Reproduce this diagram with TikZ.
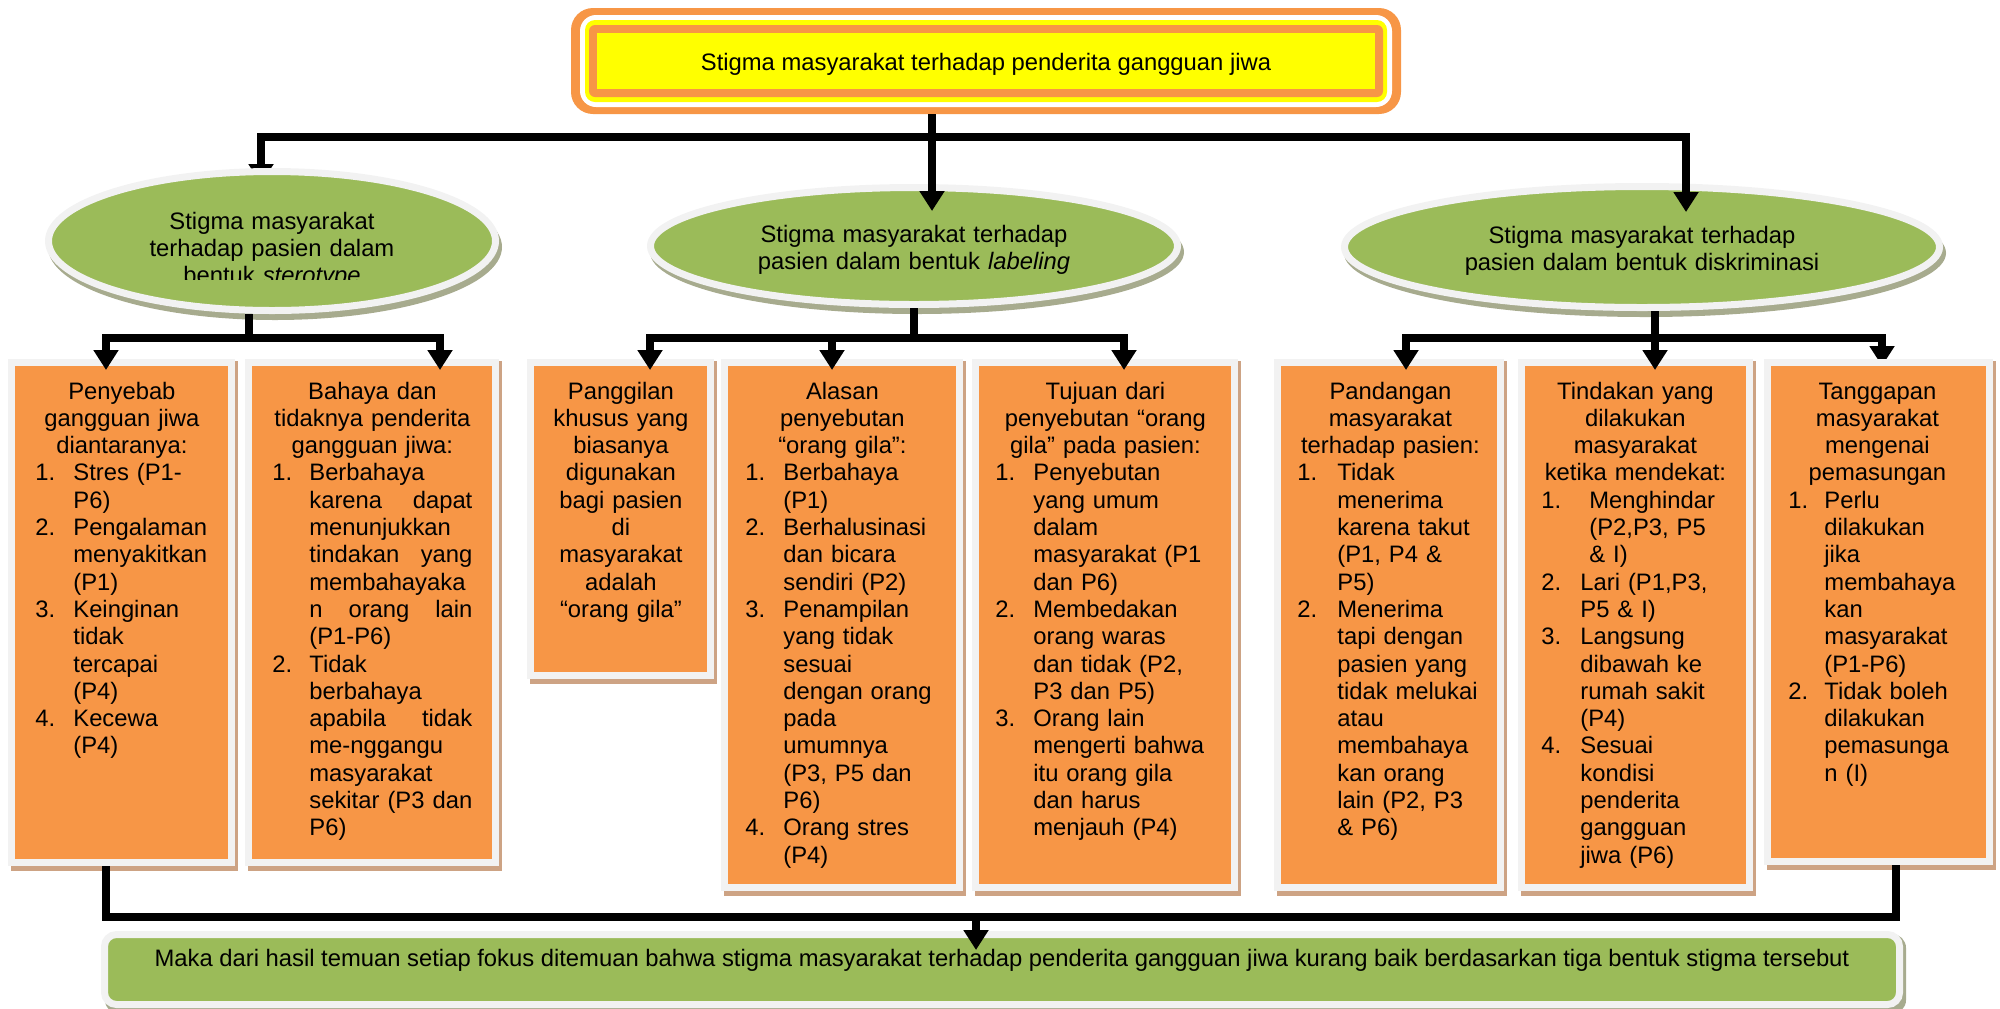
\documentclass[tikz,border=0pt]{standalone}
\usepackage{fontspec}
\setmainfont{Liberation Sans}
\usetikzlibrary{arrows.meta,shapes.geometric,fit}

\definecolor{orangeF}{HTML}{F79646}
\definecolor{greenF}{HTML}{9BBB59}
\definecolor{edgeG}{HTML}{F2F2F2}
\definecolor{shadowO}{HTML}{CDA384}
\definecolor{shadowG}{HTML}{A7AB8E}
\definecolor{yellowF}{HTML}{FFFF00}

\newcommand{\txtfont}{\fontsize{11.9pt}{13.65pt}\selectfont}
% numbered item with hanging indent: width of number column, number, lines
\newcommand{\itm}[3]{\par\hangindent=#1\hangafter=1\noindent\makebox[#1][l]{#2}#3\par}
% orange panel with light edge and drop shadow: name, x1, y1, x2, y2 of the orange area
\newcommand{\obox}[5]{%
  \fill[shadowO] (#2-4,#3-5) rectangle (#4+10,#5+12);
  \node[panel, fit={(#2-3.5,#3-3.5) (#4+3.5,#5+3.5)}] (#1) {};}

\tikzset{
  conn/.style={line width=3.6pt, draw=black},
  arr/.style={conn, -{Triangle[width=12pt,length=10pt]}},
  panel/.style={fill=orangeF, draw=edgeG, line width=3.5pt, inner sep=0pt},
  oval/.style={ellipse, fill=greenF, draw=edgeG, line width=3.5pt, inner sep=0pt},
  btext/.style={anchor=base west, inner sep=0pt, text width=#1, font=\txtfont},
  ctext/.style={anchor=base, inner sep=0pt, text width=#1, font=\txtfont, align=center},
}

\begin{document}
\hyphenpenalty=10000
\exhyphenpenalty=10000
\begin{tikzpicture}[x=0.5pt,y=-0.5pt]
\useasboundingbox (0,0) rectangle (2000,1008);

% ---- title frame ----
\node[fill=orangeF, rounded corners=11pt, inner sep=0pt, minimum width=415pt, minimum height=53pt] (top) at (986,61) {};
\fill[white, rounded corners=8pt] (580,15) rectangle (1392,107);
\fill[yellowF, rounded corners=5pt] (585,20) rectangle (1387,102);
\fill[orangeF, rounded corners=3pt] (589,25) rectangle (1383,97);
\fill[yellowF] (597,33) rectangle (1375,89);
\node[anchor=base, font=\txtfont, inner sep=0pt] (toptext) at (986,70) {Stigma masyarakat terhadap penderita gangguan jiwa};

% ---- junctions and arrow tips ----
\coordinate (jT) at (932,137);
\coordinate (tipL) at (261,184);
\coordinate (tipM) at (932,211);
\coordinate (tipR) at (1686,212);
\coordinate (jL) at (249,338);
\coordinate (jM) at (914,338);
\coordinate (jR) at (1655,338);
\coordinate (tipA) at (106,370);
\coordinate (tipB) at (440,370);
\coordinate (tipC) at (650,370);
\coordinate (tipD) at (832,370);
\coordinate (tipE) at (1124,370);
\coordinate (tipF) at (1406,370);
\coordinate (tipG) at (1655,370);
\coordinate (tipH) at (1882,366);
\coordinate (jB1) at (106,917);
\coordinate (jB2) at (1896,917);
\coordinate (tipBot) at (976,950);

% branch that runs under the left oval
\draw[arr] (jT) -| (tipL);

% ---- ovals ----
\fill[shadowG] (275,247) ellipse [x radius=113.5pt, y radius=36.5pt];
\node[oval, minimum width=223.5pt, minimum height=69.5pt] (Lell) at (272,241) {};
\fill[shadowG] (917,252) ellipse [x radius=133.5pt, y radius=31pt];
\node[oval, minimum width=263.5pt, minimum height=58.5pt] (Mell) at (914,246) {};
\fill[shadowG] (1645,253) ellipse [x radius=150.5pt, y radius=32pt];
\node[oval, minimum width=297.5pt, minimum height=60.5pt] (Rell) at (1642,247) {};

\begin{scope}
  \clip (40,150) rectangle (510,279);
  \node[ctext=210pt] (Ltext) at (272,229) {Stigma masyarakat\\terhadap pasien dalam\\bentuk \textit{sterotype}};
\end{scope}
\node[ctext=250pt] (Mtext) at (914,242) {Stigma masyarakat terhadap\\pasien dalam bentuk \textit{labeling}};
\node[ctext=250pt] (Rtext) at (1642,243) {Stigma masyarakat terhadap\\pasien dalam bentuk diskriminasi};

\draw[arr] (top.south -| jT) -- (tipM);
\draw[arr] (jT) -| (tipR);

% branch that runs under the last panel
\draw[arr] (jR) -| (tipH);

% ---- panels ----
\obox{A}{15}{366}{228}{859}
\obox{B}{252}{366}{492}{859}
\obox{C}{534}{366}{707}{672}
\obox{D}{728}{366}{956}{884}
\obox{E}{979}{366}{1231}{884}
\obox{F}{1281}{366}{1497}{884}
\obox{G}{1525}{366}{1746}{884}
\obox{H}{1771}{366}{1986}{858}

\node[btext=86.5pt] (Atext) at (35,399) {\centering Penyebab\\gangguan jiwa\\diantaranya:\par\raggedright
\itm{19pt}{1.}{Stres (P1-\newline P6)}
\itm{19pt}{2.}{Pengalaman\newline menyakitkan\newline (P1)}
\itm{19pt}{3.}{Keinginan\newline tidak\newline tercapai\newline (P4)}
\itm{19pt}{4.}{Kecewa\newline (P4)}};

\node[btext=100pt] (Btext) at (272,399) {\centering Bahaya dan\\tidaknya penderita\\gangguan jiwa:\par\raggedright
\itm{18.5pt}{1.}{Berbahaya\newline karena\hfill dapat\newline menunjukkan\newline tindakan\hfill yang\newline membahayaka\newline n\hfill orang\hfill lain\newline (P1-P6)}
\itm{18.5pt}{2.}{Tidak\newline berbahaya\newline apabila\hfill tidak\newline me-nggangu\newline masyarakat\newline sekitar\hfill (P3\hfill dan\newline P6)}};

\node[btext=79.5pt] (Ctext) at (541,399) {\centering Panggilan\\khusus yang\\biasanya\\digunakan\\bagi pasien\\di\\masyarakat\\adalah\\“orang gila”\par};

\node[btext=97pt] (Dtext) at (745,399) {\centering Alasan\\penyebutan\\“orang gila”:\par\raggedright
\itm{19pt}{1.}{Berbahaya\newline (P1)}
\itm{19pt}{2.}{Berhalusinasi\newline dan bicara\newline sendiri (P2)}
\itm{19pt}{3.}{Penampilan\newline yang tidak\newline sesuai\newline dengan orang\newline pada\newline umumnya\newline (P3, P5 dan\newline P6)}
\itm{19pt}{4.}{Orang stres\newline (P4)}};

\node[btext=110pt] (Etext) at (995,399) {\centering Tujuan dari\\penyebutan “orang\\gila” pada pasien:\par\raggedright
\itm{19pt}{1.}{Penyebutan\newline yang umum\newline dalam\newline masyarakat (P1\newline dan P6)}
\itm{19pt}{2.}{Membedakan\newline orang waras\newline dan tidak (P2,\newline P3 dan P5)}
\itm{19pt}{3.}{Orang lain\newline mengerti bahwa\newline itu orang gila\newline dan harus\newline menjauh (P4)}};

\node[btext=93pt] (Ftext) at (1297,399) {\centering Pandangan\\masyarakat\\terhadap pasien:\par\raggedright
\itm{20pt}{1.}{Tidak\newline menerima\newline karena takut\newline (P1, P4 \&\newline P5)}
\itm{20pt}{2.}{Menerima\newline tapi dengan\newline pasien yang\newline tidak melukai\newline atau\newline membahaya\newline kan orang\newline lain (P2, P3\newline \& P6)}};

\node[btext=94pt] (Gtext) at (1541,399) {\centering Tindakan yang\\dilakukan\\masyarakat\\ketika mendekat:\par\raggedright
\itm{24pt}{1.}{Menghindar\newline (P2,P3, P5\newline \& I)}
\itm{19.5pt}{2.}{Lari (P1,P3,\newline P5 \& I)}
\itm{19.5pt}{3.}{Langsung\newline dibawah ke\newline rumah sakit\newline (P4)}
\itm{19.5pt}{4.}{Sesuai\newline kondisi\newline penderita\newline gangguan\newline jiwa (P6)}};

\node[btext=89pt] (Htext) at (1788,399) {\centering Tanggapan\\masyarakat\\mengenai\\pemasungan\par\raggedright
\itm{18pt}{1.}{Perlu\newline dilakukan\newline jika\newline membahaya\newline kan\newline masyarakat\newline (P1-P6)}
\itm{18pt}{2.}{Tidak boleh\newline dilakukan\newline pemasunga\newline n (I)}};

% ---- connectors from ovals to panels ----
\draw[conn] (Lell.south -| jL) -- (jL);
\draw[arr] (jL) -| (tipA);
\draw[arr] (jL) -| (tipB);
\draw[conn] (Mell.south -| jM) -- (jM);
\draw[arr] (jM) -| (tipC);
\draw[arr] (jM) -| (tipD);
\draw[arr] (jM) -| (tipE);
\draw[arr] (Rell.south -| jR) -- (tipG);
\draw[arr] (jR) -| (tipF);

% ---- conclusion ----
\fill[shadowG, rounded corners=7pt] (105,934) rectangle (1906,1014);
\node[fit={(104.5,934.5) (1899.5,1004.5)}, fill=greenF, draw=edgeG, line width=3.5pt, rounded corners=6pt, inner sep=0pt] (bot) {};
\node[anchor=base, font=\txtfont, inner sep=0pt] (bottext) at (1002,966) {Maka dari hasil temuan setiap fokus ditemuan bahwa stigma masyarakat terhadap penderita gangguan jiwa kurang baik berdasarkan tiga bentuk stigma tersebut};

\draw[conn] (A.south -| jB1) |- (jB2) -- (H.south -| jB2);
\draw[arr] (tipBot |- jB1) -- (tipBot);
\end{tikzpicture}
\end{document}
